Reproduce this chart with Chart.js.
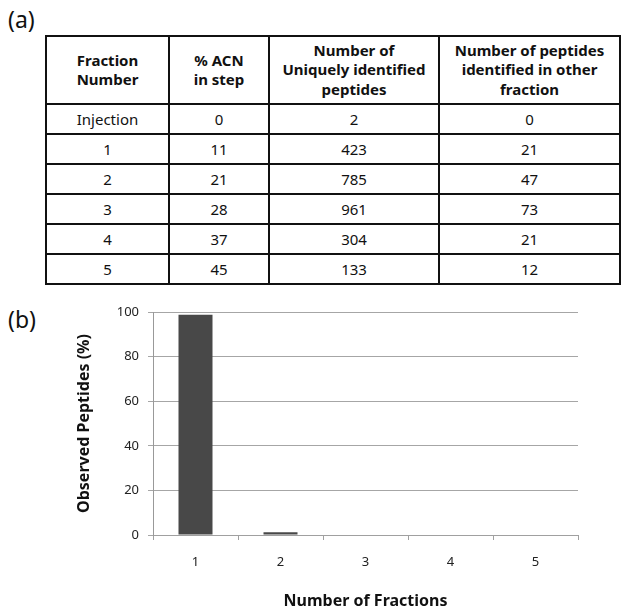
<!DOCTYPE html>
<html>
<head>
<meta charset="utf-8">
<script src="https://cdn.jsdelivr.net/npm/chart.js@4/dist/chart.umd.min.js"></script>
<style>
  html, body { margin: 0; padding: 0; background: #fff; overflow: hidden; }
  body { width: 621px; height: 609px; position: relative; font-family: "Noto Sans", sans-serif; color: #111; }
  .panel { position: absolute; left: 8px; font-size: 23px; line-height: 26px; }
  #tbl { position: absolute; left: 45px; top: 35px; border-collapse: collapse; table-layout: fixed; width: 574px; }
  #tbl th, #tbl td { border: 2px solid #111; text-align: center; padding: 0; font-size: 15px; }
  #tbl th { height: 66px; font-weight: bold; line-height: 19.5px; }
  #tbl td { height: 28px; }
  #wrap { position: absolute; left: 75px; top: 295px; width: 513px; height: 320px; }
</style>
</head>
<body>
<div class="panel" style="top:6px">(a)</div>
<table id="tbl">
  <colgroup><col style="width:123px"><col style="width:100px"><col style="width:170px"><col style="width:181px"></colgroup>
  <thead><tr>
    <th>Fraction<br>Number</th>
    <th>% ACN<br>in step</th>
    <th>Number of<br>Uniquely identified<br>peptides</th>
    <th>Number of peptides<br>identified in other<br>fraction</th>
  </tr></thead>
  <tbody></tbody>
</table>
<div class="panel" style="top:306px">(b)</div>
<div id="wrap"><canvas id="chart"></canvas></div>
<script>
// table (a)
const fractionNumbers = ["Injection", "1", "2", "3", "4", "5"];
const acnPercent = [0, 11, 21, 28, 37, 45];
const uniquePeptides = [2, 423, 785, 961, 304, 133];
const otherFractionPeptides = [0, 21, 47, 73, 21, 12];

// chart (b)
const fractionCounts = ["1", "2", "3", "4", "5"];
const observedPct = [98.8, 1.2, 0, 0, 0];

const tbody = document.querySelector("#tbl tbody");
fractionNumbers.forEach((f, i) => {
  const tr = document.createElement("tr");
  [f, acnPercent[i], uniquePeptides[i], otherFractionPeptides[i]].forEach(v => {
    const td = document.createElement("td");
    td.textContent = v;
    tr.appendChild(td);
  });
  tbody.appendChild(tr);
});

const font = "'Noto Sans', sans-serif";
new Chart(document.getElementById("chart"), {
  type: "bar",
  data: {
    labels: fractionCounts,
    datasets: [{
      data: observedPct,
      backgroundColor: "#484848",
      barPercentage: 0.4,
      categoryPercentage: 1.0
    }]
  },
  options: {
    responsive: true,
    maintainAspectRatio: false,
    animation: false,
    layout: { padding: { top: 17, right: 10, left: 0, bottom: 0 } },
    plugins: { legend: { display: false }, tooltip: { enabled: false } },
    scales: {
      x: {
        grid: { offset: true, drawOnChartArea: false, drawTicks: true, tickLength: 5, color: "#a0a0a0" },
        border: { color: "#a0a0a0" },
        ticks: { color: "#222", padding: 14, font: { family: font, size: 13 } },
        title: { display: true, text: "Number of Fractions", color: "#111", padding: { top: 0, bottom: 4 },
                 font: { family: font, size: 16, weight: "bold" } },
        afterFit: s => { s.height = 80; }
      },
      y: {
        min: 0, max: 100,
        ticks: { stepSize: 20, color: "#222", padding: 9, font: { family: font, size: 13 } },
        grid: { color: "#a6a6a6", tickLength: 5 },
        border: { color: "#999" },
        title: { display: true, text: "Observed Peptides (%)", color: "#111", padding: 0,
                 font: { family: font, size: 16, weight: "bold" } },
        afterFit: s => { s.width = 78; }
      }
    }
  }
});
</script>
</body>
</html>
